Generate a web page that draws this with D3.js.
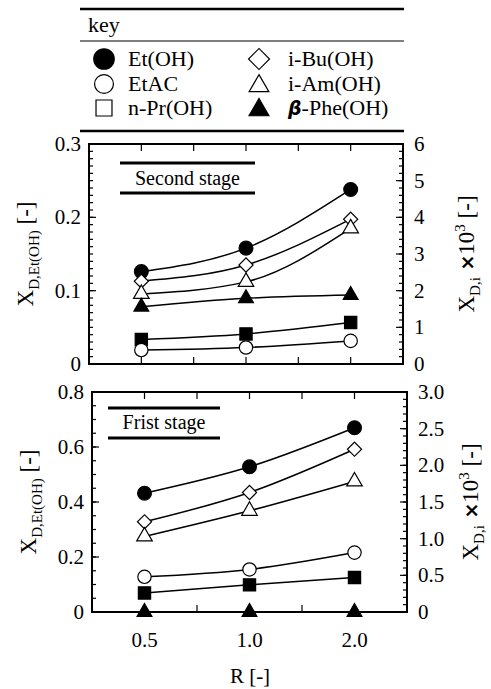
<!DOCTYPE html>
<html>
<head>
<meta charset="utf-8">
<script src="https://cdn.jsdelivr.net/npm/d3@7"></script>
<style>
  html, body { margin: 0; padding: 0; background: #fff; }
  text { font-family: "Liberation Serif", "Times New Roman", "DejaVu Serif", serif; }
</style>
</head>
<body>
<svg id="chart" width="491" height="689"></svg>
<script>
// R values, drawn at evenly spaced tick slots 0, 2, 4
const rLabels = ['0.5', '1.0', '2.0'];
const rSlots = [0, 2, 4];

// series keys (legend order)
const series = ['Et(OH)', 'EtAC', 'n-Pr(OH)', 'i-Bu(OH)', 'i-Am(OH)', 'β-Phe(OH)'];

// second stage: Et(OH) on left axis [-], others on right axis [x10^3]
const secondEtOH = [0.126, 0.158, 0.238];
const secondEtAC = [0.38, 0.45, 0.63];
const secondNPr = [0.67, 0.82, 1.13];
const secondIBu = [2.26, 2.70, 3.95];
const secondIAm = [1.91, 2.24, 3.70];
const secondPhe = [1.56, 1.79, 1.88];

// first stage
const firstEtOH = [0.432, 0.528, 0.670];
const firstEtAC = [0.48, 0.58, 0.81];
const firstNPr = [0.26, 0.37, 0.47];
const firstIBu = [1.23, 1.63, 2.22];
const firstIAm = [1.03, 1.38, 1.78];
const firstPhe = [0, 0, 0];

const leftTicksTop = [0, 0.1, 0.2, 0.3];
const rightTicksTop = [0, 1, 2, 3, 4, 5, 6];
const leftTicksBot = [0, 0.2, 0.4, 0.6, 0.8];
const rightTicksBot = [0, 0.5, 1.0, 1.5, 2.0, 2.5, 3.0];

const SERIF = '"Liberation Serif", "Times New Roman", "DejaVu Serif", serif';
const svg = d3.select('#chart');

// marker styles per series
const MARK = {
  'Et(OH)':    { type: d3.symbolCircle,   fill: '#000', size: 150, rot: 0, leg: 2.2 },
  'EtAC':      { type: d3.symbolCircle,   fill: '#fff', size: 140, rot: 0, leg: 2.0 },
  'n-Pr(OH)':  { type: d3.symbolSquare,   fill: '#000', size: 150, rot: 0, leg: 1.7 },
  'i-Bu(OH)':  { type: d3.symbolSquare,   fill: '#fff', size: 100, rot: 45, leg: 2.2 },
  'i-Am(OH)':  { type: d3.symbolTriangle, fill: '#fff', size: 105, rot: 0, leg: 1.6 },
  'β-Phe(OH)': { type: d3.symbolTriangle, fill: '#000', size: 95, rot: 0, leg: 1.8 }
};
// legend uses open square for n-Pr(OH)
const LEG_FILL = { 'n-Pr(OH)': '#fff' };

function marker(g, name, x, y, scale, fillOverride) {
  const m = MARK[name];
  g.append('path')
    .attr('d', d3.symbol().type(m.type).size(m.size * scale)())
    .attr('transform', `translate(${x},${y}) rotate(${m.rot})`)
    .attr('fill', fillOverride || m.fill)
    .attr('stroke', '#000')
    .attr('stroke-width', 1.2);
}

// ── Legend ─────────────────────────────────────
const leg = svg.append('g');
leg.append('line').attr('x1', 80).attr('x2', 404).attr('y1', 9).attr('y2', 9)
  .attr('stroke', '#000').attr('stroke-width', 2.5);
leg.append('text').attr('x', 88).attr('y', 32).attr('font-size', 22).text('key');
leg.append('line').attr('x1', 80).attr('x2', 404).attr('y1', 41).attr('y2', 41)
  .attr('stroke', '#000').attr('stroke-width', 1);
leg.append('line').attr('x1', 80).attr('x2', 404).attr('y1', 131).attr('y2', 131)
  .attr('stroke', '#000').attr('stroke-width', 2.5);

const rowY = [59, 84, 108];
series.forEach((s, i) => {
  const col = Math.floor(i / 3), row = i % 3;
  const mx = col === 0 ? 104 : 259;
  const tx = col === 0 ? 128 : 288;
  const dyM = MARK[s].type === d3.symbolTriangle ? 2 : 0;
  marker(leg, s, mx, rowY[row] + dyM, MARK[s].leg, LEG_FILL[s]);
  const t = leg.append('text').attr('x', tx).attr('y', rowY[row] + 7).attr('font-size', 22);
  if (s.startsWith('β')) {
    t.append('tspan').style('font-family', '"DejaVu Sans", sans-serif').attr('font-style', 'italic')
      .attr('font-weight', 'bold').attr('font-size', 19).text('β');
    t.append('tspan').text(s.slice(1));
  } else {
    t.text(s);
  }
});

// ── Panels ─────────────────────────────────────
function drawPanel(cfg) {
  const g = svg.append('g');
  const x = d3.scaleLinear().domain([-1, 5]).range([cfg.x0, cfg.x1]);
  const yL = d3.scaleLinear().domain([0, cfg.leftMax]).range([cfg.y1, cfg.y0]);
  const yR = d3.scaleLinear().domain([0, cfg.rightMax]).range([cfg.y1, cfg.y0]);

  // minor/major ticks, inward
  const tickLines = (scale, vals, side, len) => {
    vals.forEach(v => {
      const p = scale(v);
      if (side === 'left') g.append('line').attr('x1', cfg.x0).attr('x2', cfg.x0 + len).attr('y1', p).attr('y2', p);
      if (side === 'right') g.append('line').attr('x1', cfg.x1).attr('x2', cfg.x1 - len).attr('y1', p).attr('y2', p);
      if (side === 'bottom') g.append('line').attr('x1', p).attr('x2', p).attr('y1', cfg.y1).attr('y2', cfg.y1 - len);
      if (side === 'top') g.append('line').attr('x1', p).attr('x2', p).attr('y1', cfg.y0).attr('y2', cfg.y0 + len);
    });
  };
  const minorL = d3.range(0, cfg.leftMax + 1e-9, cfg.leftMinor);
  const minorR = d3.range(0, cfg.rightMax + 1e-9, cfg.rightMinor);
  tickLines(yL, minorL, 'left', 4);
  tickLines(yL, cfg.leftTicks, 'left', 7);
  tickLines(yR, minorR, 'right', 4);
  tickLines(yR, cfg.rightTicks, 'right', 7);
  tickLines(x, [0, 1, 2, 3, 4], 'bottom', 7);
  tickLines(x, [0, 1, 2, 3, 4], 'top', 7);
  g.selectAll('line').attr('stroke', '#000').attr('stroke-width', 1.2);

  g.append('rect').attr('x', cfg.x0).attr('y', cfg.y0)
    .attr('width', cfg.x1 - cfg.x0).attr('height', cfg.y1 - cfg.y0)
    .attr('fill', 'none').attr('stroke', '#000').attr('stroke-width', 2);

  // tick labels
  cfg.leftTicks.forEach(v => {
    g.append('text').attr('x', cfg.x0 - 8).attr('y', yL(v) + 7)
      .attr('text-anchor', 'end').attr('font-size', 21).text(cfg.leftFmt(v));
  });
  cfg.rightTicks.forEach(v => {
    g.append('text').attr('x', cfg.x1 + 11).attr('y', yR(v) + 7)
      .attr('font-size', 21).text(cfg.rightFmt(v));
  });
  if (cfg.xLabels) {
    rSlots.forEach((s, i) => {
      g.append('text').attr('x', x(s)).attr('y', cfg.y1 + 35)
        .attr('text-anchor', 'middle').attr('font-size', 21).text(rLabels[i]);
    });
  }

  // stage label
  const st = cfg.stage;
  [st.ya, st.yb].forEach(yy => {
    g.append('line').attr('x1', st.xa).attr('x2', st.xb).attr('y1', yy).attr('y2', yy)
      .attr('stroke', '#000').attr('stroke-width', 3);
  });
  g.append('text').attr('x', (st.xa + st.xb) / 2).attr('y', st.ty)
    .attr('text-anchor', 'middle').attr('font-size', 20).text(st.text);

  // left title
  const lt = g.append('text')
    .attr('transform', `translate(${cfg.x0 - 56},${(cfg.y0 + cfg.y1) / 2}) rotate(-90)`)
    .attr('text-anchor', 'middle').attr('font-size', 23);
  lt.append('tspan').text('X');
  lt.append('tspan').attr('font-size', 15).attr('dy', 6).text('D,Et(OH)');
  lt.append('tspan').attr('dy', -6).text(' [-]');

  // right title
  const rt = g.append('text')
    .attr('transform', `translate(${cfg.x1 + 71},${(cfg.y0 + cfg.y1) / 2}) rotate(-90)`)
    .attr('text-anchor', 'middle').attr('font-size', 23);
  rt.append('tspan').text('X');
  rt.append('tspan').attr('font-size', 15).attr('dy', 6).text('D,i');
  rt.append('tspan').attr('dy', -6).style('font-family', '"DejaVu Sans", sans-serif').attr('font-weight', 'bold').attr('font-size', 19).text(' ×');
  rt.append('tspan').text('10');
  rt.append('tspan').attr('font-size', 15).attr('dy', -9).text('3');
  rt.append('tspan').attr('dy', 9).text(' [-]');

  // series lines and markers
  const line = d3.line().curve(d3.curveMonotoneX);
  cfg.data.forEach(d => {
    const ys = d.axis === 'L' ? yL : yR;
    const pts = d.values.map((v, i) => [x(rSlots[i]), ys(v)]);
    if (d.line !== false) {
      g.append('path').attr('d', line(pts)).attr('fill', 'none')
        .attr('stroke', '#000').attr('stroke-width', 1.5);
    }
  });
  cfg.data.forEach(d => {
    const ys = d.axis === 'L' ? yL : yR;
    d.values.forEach((v, i) => marker(g, d.name, x(rSlots[i]), ys(v), 1));
  });
}

drawPanel({
  x0: 89, x1: 403, y0: 144, y1: 364,
  leftMax: 0.3, leftMinor: 0.01, leftTicks: leftTicksTop, leftFmt: v => v === 0 ? '0' : v.toFixed(1),
  rightMax: 6, rightMinor: 0.2, rightTicks: rightTicksTop, rightFmt: v => String(v),
  xLabels: false,
  stage: { xa: 120, xb: 255, ya: 163, yb: 193, ty: 185, text: 'Second stage' },
  data: [
    { name: 'Et(OH)', axis: 'L', values: secondEtOH },
    { name: 'i-Bu(OH)', axis: 'R', values: secondIBu },
    { name: 'i-Am(OH)', axis: 'R', values: secondIAm },
    { name: 'β-Phe(OH)', axis: 'R', values: secondPhe },
    { name: 'n-Pr(OH)', axis: 'R', values: secondNPr },
    { name: 'EtAC', axis: 'R', values: secondEtAC }
  ]
});

drawPanel({
  x0: 92, x1: 407, y0: 392, y1: 612,
  leftMax: 0.8, leftMinor: 0.05, leftTicks: leftTicksBot, leftFmt: v => v === 0 ? '0' : v.toFixed(1),
  rightMax: 3, rightMinor: 0.1, rightTicks: rightTicksBot, rightFmt: v => v === 0 ? '0' : v.toFixed(1),
  xLabels: true,
  stage: { xa: 108, xb: 220, ya: 408, yb: 438, ty: 429, text: 'Frist stage' },
  data: [
    { name: 'Et(OH)', axis: 'L', values: firstEtOH },
    { name: 'i-Bu(OH)', axis: 'R', values: firstIBu },
    { name: 'i-Am(OH)', axis: 'R', values: firstIAm },
    { name: 'EtAC', axis: 'R', values: firstEtAC },
    { name: 'n-Pr(OH)', axis: 'R', values: firstNPr },
    { name: 'β-Phe(OH)', axis: 'R', values: firstPhe, line: false }
  ]
});

// x-axis title
svg.append('text').attr('x', 250).attr('y', 683)
  .attr('text-anchor', 'middle').attr('font-size', 21).text('R [-]');
</script>
</body>
</html>
